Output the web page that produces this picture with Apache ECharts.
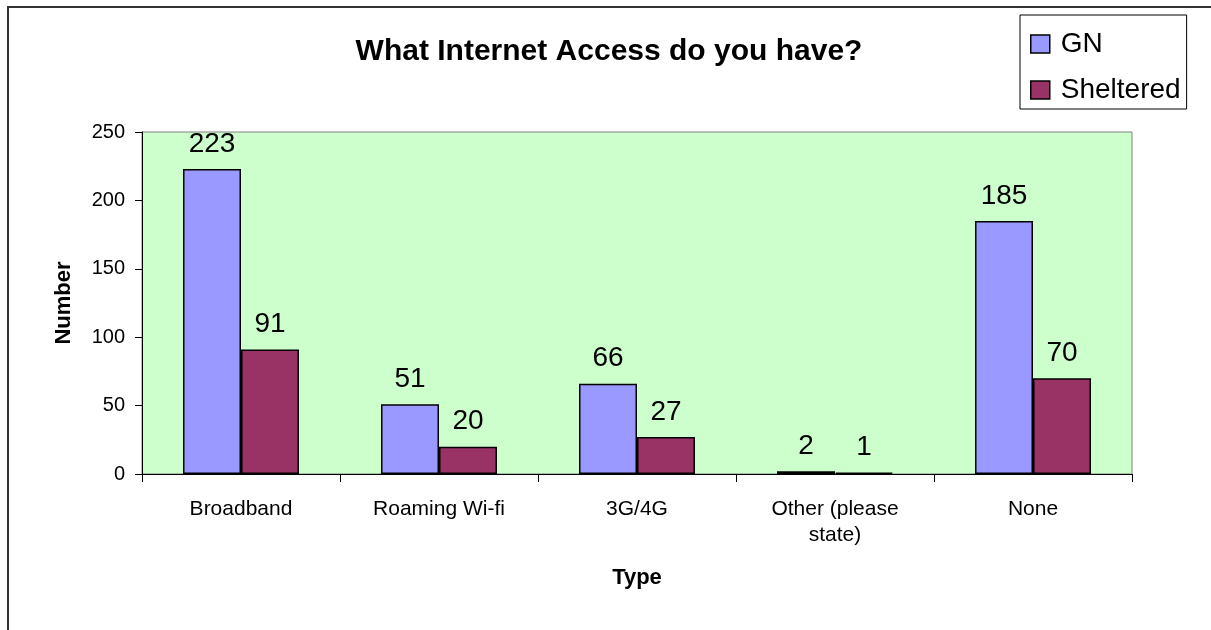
<!DOCTYPE html>
<html>
<head>
<meta charset="utf-8">
<script src="https://cdn.jsdelivr.net/npm/echarts@6/dist/echarts.min.js"></script>
<style>
  html, body { margin: 0; padding: 0; background: #fff; }
  #chart { width: 1211px; height: 630px; }
</style>
</head>
<body>
<div id="chart"></div>
<script>
// Survey answers: internet access by type
const categories = ['Broadband', 'Roaming Wi-fi', '3G/4G', 'Other (please\nstate)', 'None'];
const gnValues = [223, 51, 66, 2, 185];
const shelteredValues = [91, 20, 27, 1, 70];
const yTicks = [0, 50, 100, 150, 200, 250];

const font = 'Arial, "Liberation Sans", Helvetica, sans-serif';

const chart = echarts.init(document.getElementById('chart'), null, { renderer: 'canvas' });

const labelStyle = {
  show: true,
  position: 'top',
  distance: 11,
  color: '#000',
  fontFamily: font,
  fontSize: 28
};

chart.setOption({
  animation: false,
  backgroundColor: '#fff',
  title: {
    text: 'What Internet Access do you have?',
    left: 609,
    textAlign: 'center',
    top: 37,
    padding: 0,
    textStyle: { fontFamily: font, fontSize: 30, fontWeight: 'bold', color: '#000' }
  },
  legend: {
    orient: 'vertical',
    left: 1020,
    top: 15,
    padding: [15, 6, 5, 10],
    itemGap: 18,
    itemWidth: 19,
    itemHeight: 18,
    borderColor: '#000',
    borderWidth: 1,
    backgroundColor: '#fff',
    textStyle: { fontFamily: font, fontSize: 28, color: '#000', padding: [0, 0, 0, 6] },
    itemStyle: { borderColor: '#000', borderWidth: 1.5 },
    data: [
      { name: 'GN', icon: 'rect' },
      { name: 'Sheltered', icon: 'rect' }
    ]
  },
  grid: {
    left: 142,
    right: 79,
    top: 132,
    bottom: 156,
    show: true,
    backgroundColor: '#CCFFCC',
    borderColor: '#808080',
    borderWidth: 1
  },
  xAxis: {
    type: 'category',
    data: categories,
    name: 'Type',
    nameLocation: 'middle',
    nameGap: 93,
    nameTextStyle: { fontFamily: font, fontSize: 22, fontWeight: 'bold', color: '#000' },
    axisLine: { show: true, lineStyle: { color: '#000', width: 1 } },
    axisTick: { show: true, length: 8, interval: 0, lineStyle: { color: '#000' } },
    axisLabel: {
      interval: 0,
      margin: 22,
      fontFamily: font,
      fontSize: 21,
      color: '#000',
      lineHeight: 26
    },
    splitLine: { show: false }
  },
  yAxis: {
    type: 'value',
    min: 0,
    max: 250,
    interval: 50,
    name: 'Number',
    nameLocation: 'middle',
    nameGap: 67,
    nameRotate: 90,
    nameTextStyle: { fontFamily: font, fontSize: 22, fontWeight: 'bold', color: '#000' },
    axisLine: { show: true, lineStyle: { color: '#000', width: 1 } },
    axisTick: { show: true, length: 7, lineStyle: { color: '#000' } },
    axisLabel: {
      margin: 17,
      fontFamily: font,
      fontSize: 20,
      color: '#000',
      formatter: v => (yTicks.includes(v) ? String(v) : '')
    },
    splitLine: { show: false }
  },
  series: [
    {
      name: 'GN',
      type: 'bar',
      data: gnValues,
      barWidth: 58,
      barGap: '0%',
      itemStyle: { color: '#9999FF', borderColor: '#000', borderWidth: 1.5 },
      label: labelStyle
    },
    {
      name: 'Sheltered',
      type: 'bar',
      data: shelteredValues,
      barWidth: 58,
      barGap: '0%',
      itemStyle: { color: '#993366', borderColor: '#000', borderWidth: 1.5 },
      label: labelStyle
    }
  ],
  graphic: [
    {
      type: 'rect',
      shape: { x: 8, y: 7, width: 1300, height: 700 },
      style: { fill: 'none', stroke: '#333', lineWidth: 2 },
      silent: true,
      z: -1
    }
  ]
});
</script>
</body>
</html>
